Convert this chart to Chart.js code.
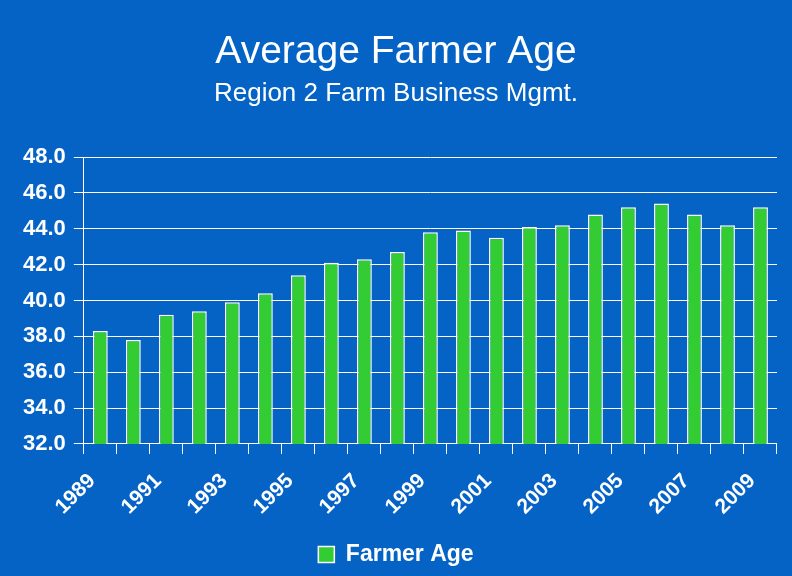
<!doctype html>
<html>
<head>
<title>Average Farmer Age</title>
<script src="https://cdn.jsdelivr.net/npm/chart.js@4.4.0/dist/chart.umd.min.js"></script>
<style>
html, body { margin: 0; padding: 0; background: #0563C6; }
#wrap { width: 792px; height: 576px; }
</style>
</head>
<body>
<div id="wrap"><canvas id="mycanvas" width="792" height="576"></canvas></div>
<script>
// data
var years = ["1989","1990","1991","1992","1993","1994","1995","1996","1997","1998","1999",
             "2000","2001","2002","2003","2004","2005","2006","2007","2008","2009"];
var farmerAge = [38.3, 37.8, 39.2, 39.4, 39.9, 40.4, 41.4, 42.1, 42.3, 42.7, 43.8,
                 43.9, 43.5, 44.1, 44.2, 44.8, 45.2, 45.4, 44.8, 44.2, 45.2];
var yMin = 32, yMax = 48, yStep = 2;

var font = "'Liberation Sans', Arial, sans-serif";

var ctx = document.getElementById("mycanvas");
var chart = new Chart(ctx, {
  type: 'bar',
  data: {
    labels: years,
    datasets: [{
      label: "Farmer Age",
      data: farmerAge,
      backgroundColor: "#33CC33",
      borderColor: "#ffffff",
      borderWidth: 1.5,
      barPercentage: 0.45,
      categoryPercentage: 1.0
    }]
  },
  options: {
    responsive: false,
    animation: false,
    layout: { padding: { left: 15, right: 15, top: 0, bottom: 0 } },
    plugins: {
      title: {
        display: true,
        text: "Average Farmer Age",
        color: "#ffffff",
        font: { family: font, size: 39, weight: 'normal' },
        padding: { top: 29, bottom: 0 }
      },
      subtitle: {
        display: true,
        text: "Region 2 Farm Business Mgmt.",
        color: "#ffffff",
        font: { family: font, size: 26, weight: 'normal' },
        padding: { top: 2, bottom: 48 }
      },
      legend: {
        position: 'bottom',
        labels: {
          color: "#ffffff",
          font: { family: font, size: 23, weight: 'bold' },
          boxWidth: 16,
          boxHeight: 16,
          padding: 17
        }
      },
      tooltip: { enabled: false }
    },
    scales: {
      x: {
        offset: true,
        grid: {
          display: true,
          drawOnChartArea: false,
          drawTicks: true,
          tickLength: 10,
          color: "#ffffff",
          offset: true
        },
        border: { display: false },
        ticks: {
          color: "#ffffff",
          font: { family: font, size: 21, weight: 'bold' },
          maxRotation: 45,
          minRotation: 45,
          autoSkip: false,
          padding: 6.5,
          // every other year is labelled; trailing spaces pull the text off the tick
          callback: function (val, i) { return i % 2 === 0 ? this.getLabelForValue(val) + "  " : ""; }
        }
      },
      y: {
        min: yMin,
        max: yMax,
        grid: {
          color: "#ffffff",
          lineWidth: 1,
          tickLength: 10
        },
        border: { display: true, color: "#ffffff" },
        ticks: {
          stepSize: yStep,
          color: "#ffffff",
          font: { family: font, size: 22, weight: 'bold' },
          padding: 8,
          callback: function (v) { return v.toFixed(1); }
        }
      }
    }
  }
});
</script>
</body>
</html>
